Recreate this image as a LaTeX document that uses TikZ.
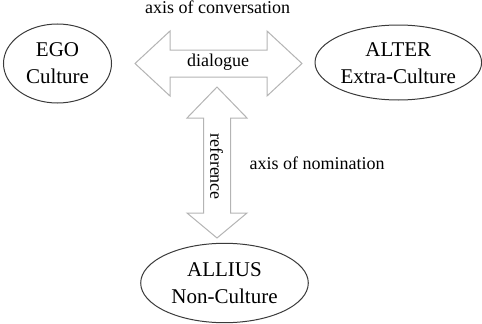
\documentclass[tikz,border=0pt]{standalone}
\usepackage{fontspec}
\setmainfont{Liberation Serif}
\usetikzlibrary{shapes.geometric}
\definecolor{ellline}{HTML}{3A3A3A}
\definecolor{arrline}{HTML}{B4B4B4}
\tikzset{
  culture/.style={ellipse, draw=ellline, line width=1pt, inner sep=0pt,
    font=\fontsize{21}{27}\selectfont, text height=10pt},
  blockarrow/.style={draw=arrline, fill=white, line width=1pt, line join=miter},
  smalltext/.style={font=\fontsize{18}{22}\selectfont, inner sep=0pt},
}
\begin{document}
\begin{tikzpicture}[x=1pt,y=-1pt]
\useasboundingbox (0,0) rectangle (482,324);
% ellipses
\node[culture, minimum width=108pt, minimum height=79pt, text depth=23.6pt] (ego) at (57.5,63.5)
  {\begin{tabular}[t]{@{}c@{}}EGO\\Culture\end{tabular}};
\node[culture, minimum width=166.6pt, minimum height=75pt, text depth=21.6pt] (alter) at (398.3,62.5)
  {\begin{tabular}[t]{@{}c@{}}ALTER\\Extra-Culture\end{tabular}};
\node[culture, minimum width=167.6pt, minimum height=79.4pt, text depth=22.6pt] (allius) at (224.5,283)
  {\begin{tabular}[t]{@{}c@{}}ALLIUS\\Non-Culture\end{tabular}};
% horizontal double block arrow
\draw[blockarrow] (135,63.5) -- (170,31) -- (170,50) -- (267,50) -- (267,31) -- (302,63.5)
  -- (267,96) -- (267,77) -- (170,77) -- (170,96) -- cycle;
% vertical double block arrow
\draw[blockarrow] (217,87) -- (247,118) -- (230.5,118) -- (230.5,213) -- (247,213) -- (217,238)
  -- (187,213) -- (203.5,213) -- (203.5,118) -- (187,118) -- cycle;
% labels
\node[smalltext, anchor=base] (conv) at (217.7,13.3) {axis of conversation};
\node[smalltext, anchor=base] (dial) at (218,66.7) {dialogue};
\node[smalltext, anchor=base] (nom) at (317,169) {axis of nomination};
\node[smalltext, rotate=-90] (ref) at (216.5,166.5) {reference};
\end{tikzpicture}
\end{document}
